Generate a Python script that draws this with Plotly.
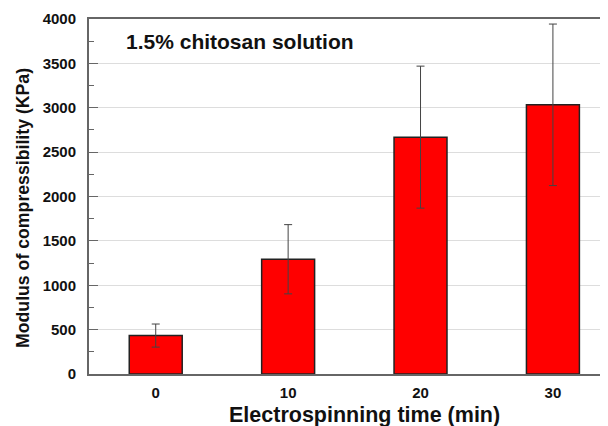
import plotly.graph_objects as go

times = [0, 10, 20, 30]
tick_labels = ["0", "10", "20", "30"]
modulus = [433, 1293, 2669, 3033]
errors = [130, 390, 800, 910]
y_ticks = [0, 500, 1000, 1500, 2000, 2500, 3000, 3500, 4000]

FONT = "Liberation Sans, Arial, sans-serif"

# The page body has an 8px margin; the figure is sized/placed to compensate.
OFF = 8
W, H = 608 - OFF, 426 - OFF
L, T, B = 89 - OFF, 19 - OFF, 426 - 374
PW, PH = W - L, H - T - B


def px(x):
    return (x - 89) / PW


def py(y):
    return 1 - (y - 19) / PH


fig = go.Figure()
fig.add_trace(go.Bar(
    x=times, y=modulus, width=4,
    marker=dict(color="#ff0000", line=dict(color="#222222", width=1.5)),
    error_y=dict(type="data", array=errors, visible=True,
                 color="#444444", thickness=1, width=4),
    showlegend=False,
))

fig.update_layout(
    width=W, height=H,
    margin=dict(l=L, r=0, t=T, b=B, autoexpand=False),
    paper_bgcolor="white", plot_bgcolor="white",
    font=dict(family=FONT, color="#111111"),
)
fig.update_xaxes(
    range=[-5.04, 34.16], tickvals=times, ticktext=tick_labels,
    showline=True, linecolor="#666666", linewidth=2, mirror=True,
    ticks="", showgrid=False, zeroline=False, automargin=False,
    tickfont=dict(family=FONT, size=15, color="#111111", weight="bold"),
    ticklabelstandoff=4,
)
fig.update_yaxes(
    range=[0, 4000], tickvals=y_ticks,
    showline=True, linecolor="#666666", linewidth=2,
    ticks="inside", ticklen=9, tickcolor="#666666", tickwidth=1,
    showgrid=True, gridcolor="#dddddd", gridwidth=1, zeroline=False,
    automargin=False,
    minor=dict(ticks="inside", ticklen=5, tickcolor="#666666", dtick=250, showgrid=False),
    tickfont=dict(family=FONT, size=15, color="#111111", weight="bold"),
    ticklabelstandoff=8,
)

fig.add_annotation(
    text="<b>1.5% chitosan solution</b>", xref="paper", yref="paper",
    x=px(124), y=py(41), xanchor="left", yanchor="middle",
    showarrow=False, font=dict(family=FONT, size=21, color="#111111"),
)
fig.add_annotation(
    text="<b>Modulus of compressibility (KPa)</b>", xref="paper", yref="paper",
    x=px(23), y=py(208), xanchor="center", yanchor="middle",
    textangle=-90, showarrow=False, font=dict(family=FONT, size=17.7, color="#111111"),
)
fig.add_annotation(
    text="<b>Electrospinning time (min)</b>", xref="paper", yref="paper",
    x=px(364), y=py(415), xanchor="center", yanchor="middle",
    showarrow=False, font=dict(family=FONT, size=21.5, color="#111111"),
)

fig.write_html("out.html")
